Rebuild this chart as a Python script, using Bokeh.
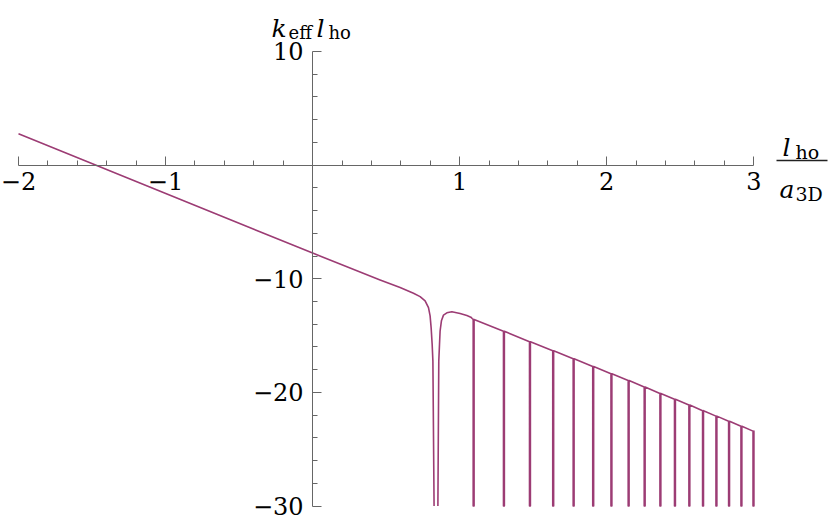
import numpy as np
from bokeh.plotting import figure
from bokeh.models import FixedTicker, Label, BoxAnnotation, Range1d
from bokeh.embed import file_html
from bokeh.resources import INLINE

# ---------------- data ----------------
# left branch, down into the first resonance
branch1_x = [-2.0, 0.0, 0.459, 0.595, 0.686, 0.731, 0.765, 0.788, 0.799, 0.806, 0.813, 0.818, 0.826]
branch1_y = [2.76, -7.74, -10.10, -10.78, -11.27, -11.57, -11.94, -12.54, -13.27, -14.30, -15.76, -17.25, -30.0]
# second branch, rising out of the first resonance
branch2_x = [0.852, 0.858, 0.863, 0.867, 0.876, 0.890, 0.913, 0.947, 1.003, 1.049, 1.076, 1.085]
branch2_y = [-30.0, -17.25, -15.76, -14.60, -13.70, -13.20, -13.00, -12.91, -13.06, -13.24, -13.38, -13.50]
# narrow resonances: position and the level of the curve there
res_x = [1.092, 1.298, 1.475, 1.633, 1.772, 1.905, 2.029, 2.146, 2.255, 2.362,
         2.461, 2.559, 2.652, 2.743, 2.829, 2.913, 2.995]
res_top = [-13.58, -14.63, -15.54, -16.34, -17.05, -17.73, -18.36, -18.96, -19.53, -20.09,
           -20.61, -21.12, -21.61, -22.09, -22.54, -22.98, -23.41]
end_x = [3.0]
end_y = [-23.43]
y_floor = -30.0

# ticks
x_major = [-2, -1, 1, 2, 3]
x_labels = ["\u22122", "\u22121", "1", "2", "3"]
y_major = [-30, -20, -10, 10]
y_labels = ["\u221230", "\u221220", "\u221210", "10"]

# ---------------- layout ----------------
W, H = 830, 521
X0, X1 = -2.1224, 3.5218
Y0, Y1 = -31.364, 14.488

def sx(px):
    return X0 + px * (X1 - X0) / W

def sy(py):
    return Y1 - py * (Y1 - Y0) / H

LINE = "#9c3c74"
AX = "#666666"
SERIF = "DejaVu Serif"

# build the curve (NaN breaks between branches)
xs = list(branch1_x) + [np.nan] + list(branch2_x)
ys = list(branch1_y) + [np.nan] + list(branch2_y)
w = 0.006
for rx, rt in zip(res_x, res_top):
    xs += [rx, rx, rx + w, rx + w]
    ys += [rt, y_floor, y_floor, rt]
xs += end_x
ys += end_y

p = figure(width=W, height=H, x_range=Range1d(X0, X1), y_range=Range1d(Y0, Y1),
           output_backend="svg", toolbar_location=None, min_border=0,
           outline_line_color=None, background_fill_color="white", border_fill_color="white")
p.grid.visible = False

p.line(xs, ys, line_width=1.6, line_color=LINE, line_join="round")

x_minor = [round(v, 2) for v in np.arange(-2, 3.001, 0.2) if abs(v - round(v)) > 1e-6]
y_minor = [v for v in range(-30, 11, 2) if v % 10 != 0]

for ax in (p.xaxis[0], p.yaxis[0]):
    ax.fixed_location = 0
    ax.axis_line_color = AX
    ax.axis_line_width = 1
    ax.major_tick_line_color = AX
    ax.minor_tick_line_color = AX
    ax.major_tick_in = 9
    ax.major_tick_out = 0
    ax.minor_tick_in = 5
    ax.minor_tick_out = 0
    ax.major_label_text_font = SERIF
    ax.major_label_text_font_size = "24px"
    ax.major_label_text_color = "black"

p.xaxis[0].ticker = FixedTicker(ticks=x_major, minor_ticks=x_minor)
p.xaxis[0].bounds = (-2, 3)
p.xaxis[0].major_label_overrides = {float(v): t for v, t in zip(x_major, x_labels)}
p.xaxis[0].major_label_standoff = 7

p.yaxis[0].ticker = FixedTicker(ticks=y_major, minor_ticks=y_minor)
p.yaxis[0].bounds = (-30, 10)
p.yaxis[0].major_label_overrides = {float(v): t for v, t in zip(y_major, y_labels)}
p.yaxis[0].major_label_standoff = 9

def lab(text, px, py, size, italic=False):
    p.add_layout(Label(x=sx(px), y=sy(py), text=text, text_font=SERIF,
                       text_font_size=size, text_font_style="italic" if italic else "normal",
                       text_color="black", text_align="left", text_baseline="alphabetic"))

# y-axis title: k_eff l_ho
lab("k", 271, 28, "25px", True)
lab("eff", 288, 32, "18px")
lab("l", 316, 28, "25px", True)
lab("ho", 328, 32, "18px")

# x-axis title: l_ho / a_3D
lab("l", 782, 147, "25px", True)
lab("ho", 795, 151, "19px")
p.add_layout(BoxAnnotation(left=sx(776), right=sx(827), top=sy(159.2), bottom=sy(160.8),
                           fill_color="#222222", fill_alpha=1, line_color=None))
lab("a", 779, 189, "25px", True)
lab("3D", 795, 193, "19px")

open("out.html", "w").write(file_html(p, INLINE))
